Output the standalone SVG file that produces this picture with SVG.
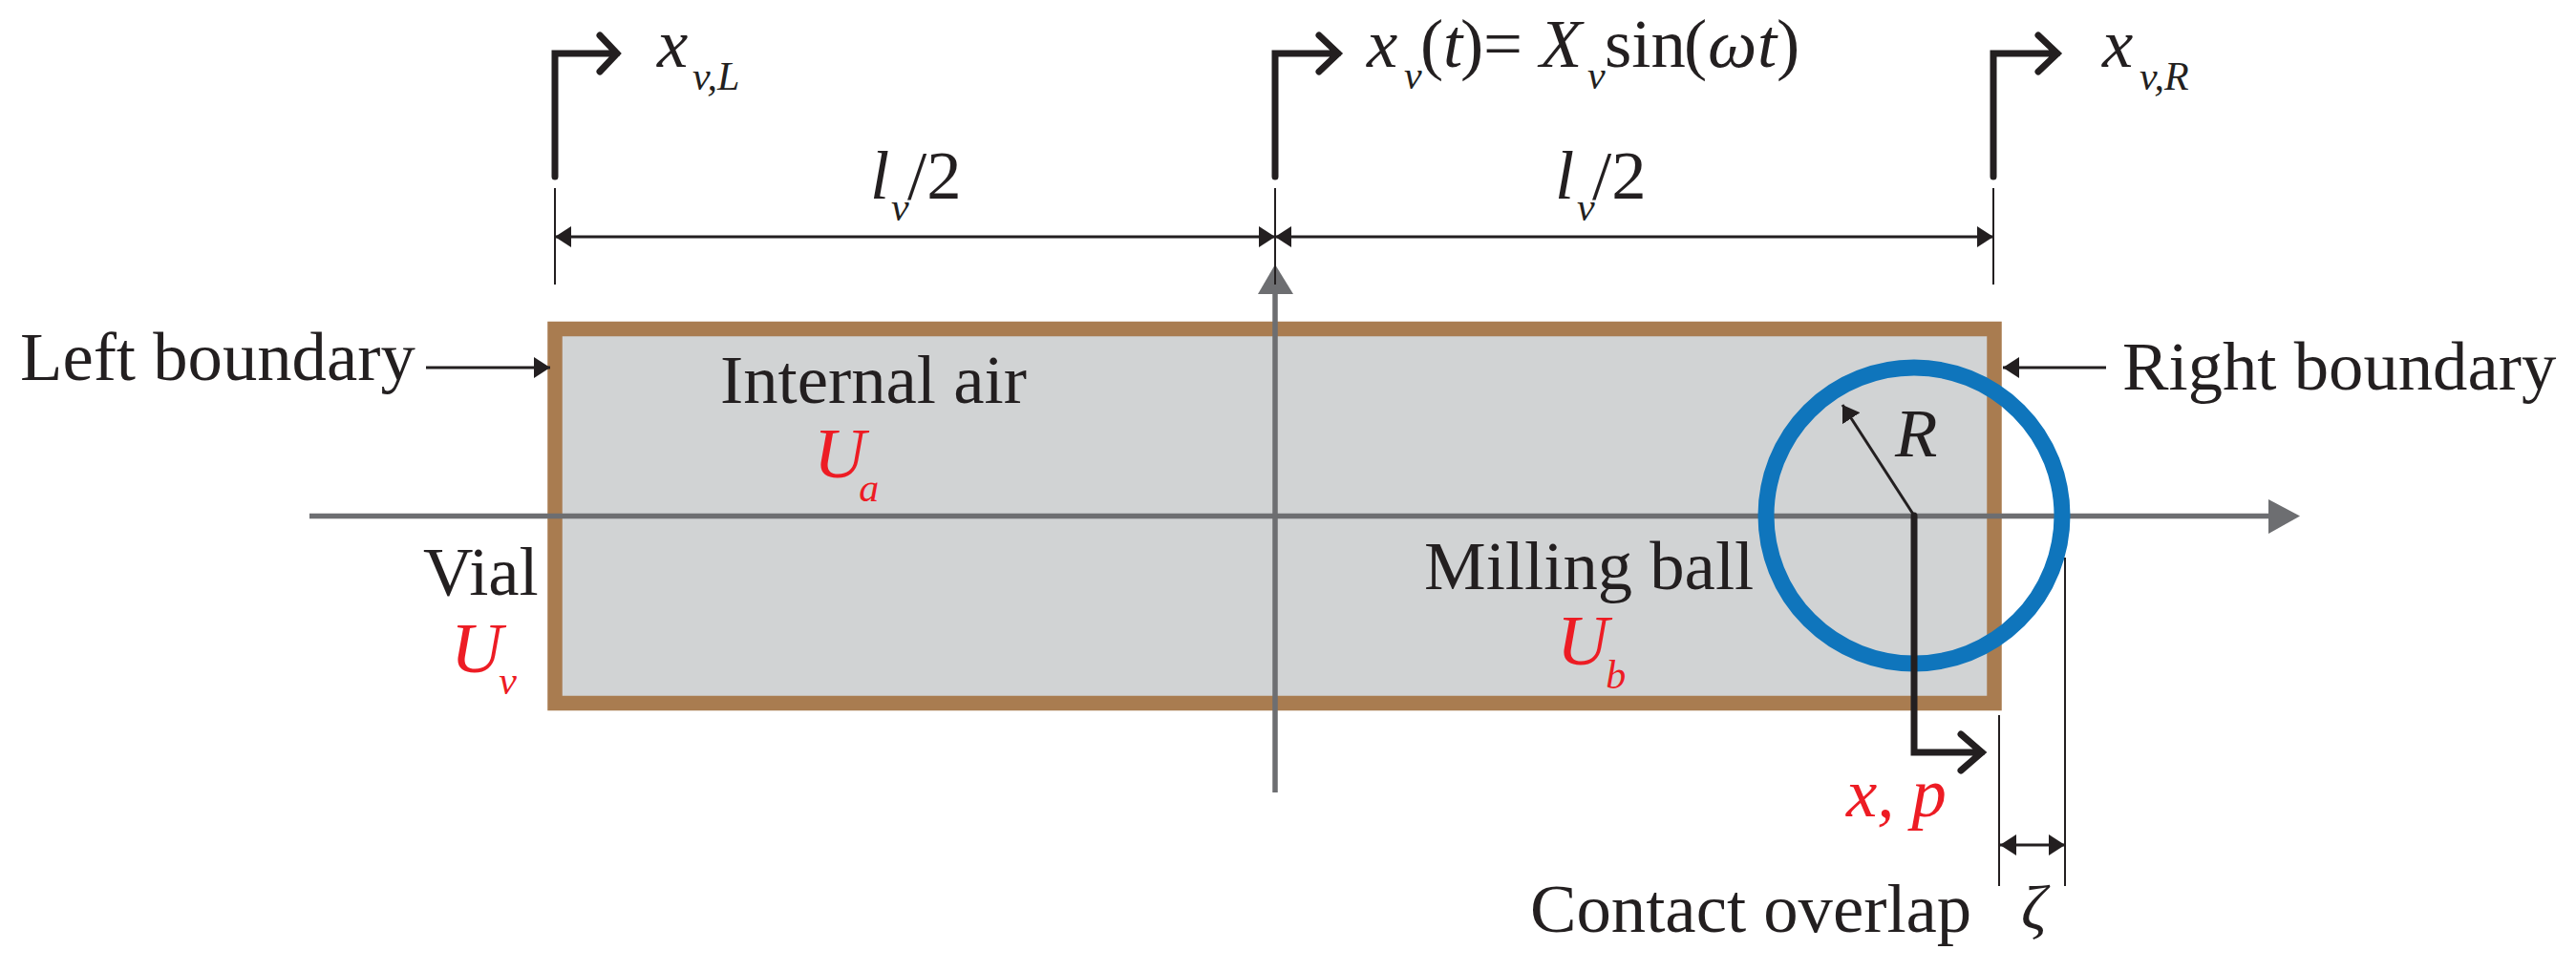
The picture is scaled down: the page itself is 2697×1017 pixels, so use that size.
<svg xmlns="http://www.w3.org/2000/svg" width="2697" height="1017" viewBox="0 0 2697 1017">
<style>
text{font-family:"Liberation Serif","Times New Roman",serif;font-size:72.7px;fill:#231f20}
.i{font-style:italic}
.u{font-style:italic;font-size:75px}
.s{font-style:italic;font-size:42px}
.r{fill:#ed1c24}
.ax{stroke:#6d6e71;stroke-width:5.5;fill:none}
.sec{stroke:#231f20;stroke-width:7;fill:none;stroke-linecap:round;stroke-linejoin:miter}
.thin{stroke:#231f20;stroke-width:2;fill:none}
.dim{stroke:#231f20;stroke-width:3;fill:none}
.tip{fill:#231f20}
.gtip{fill:#6d6e71}
</style>
<defs>
<marker id="a" markerUnits="userSpaceOnUse" markerWidth="18" markerHeight="22" refX="17" refY="11" orient="auto-start-reverse"><path class="tip" d="M0 0L17 11L0 22Z"/></marker>
</defs>
<rect width="2697" height="1017" fill="#fff"/>
<g id="vial"><rect x="581" y="344.5" width="1507" height="392" fill="#d1d3d4" stroke="#a97c50" stroke-width="15.5"/></g>
<g id="axes">
<path class="ax" d="M324 540.5H2378"/><path class="gtip" d="M2375 523L2408 540.5L2375 559Z"/>
<path class="ax" d="M1335 830V305"/><path class="gtip" d="M1335 277L1354 308H1317Z"/>
</g>
<g id="ball"><circle cx="2004" cy="540" r="155" fill="none" stroke="#0f75bc" stroke-width="17"/></g>
<g id="connectors">
<path class="thin" d="M581 197V298M1335 197V298M2087 197V298M2093 749V928M2162 584V928"/>
<path class="dim" d="M581 248H1335" marker-start="url(#a)" marker-end="url(#a)"/>
<path class="dim" d="M1335 248H2087" marker-start="url(#a)" marker-end="url(#a)"/>
<path class="dim" d="M2094 885H2162" marker-start="url(#a)" marker-end="url(#a)"/>
<path class="dim" d="M446 385H576" marker-end="url(#a)"/>
<path class="dim" d="M2205 385H2097" marker-end="url(#a)"/>
<path class="dim" d="M2004 540L1929 424" marker-end="url(#a)"/>
<path class="sec" d="M581 185V56H646M628 37L646 56L628 75"/>
<path class="sec" d="M1335 185V56H1401M1381 37L1401 56L1381 75"/>
<path class="sec" d="M2087 185V56H2154M2134 37L2154 56L2134 75"/>
<path class="sec" d="M2004 540V788H2075M2053 769L2075 788L2053 807"/>
</g>
<g id="label-xvL"><text class="i" x="688" y="70">x</text><text class="s" x="725" y="94">v,L</text></g>
<g id="label-xvt"><text class="i" x="1431" y="70">x</text><text class="s" x="1470" y="93">v</text><text x="1487" y="70">(</text><text class="i" x="1511" y="70">t</text><text x="1529" y="70">)</text><text x="1553" y="70">=</text><text class="i" x="1612" y="70">X</text><text class="s" x="1662" y="93">v</text><text x="1680" y="70">sin</text><text x="1763" y="70">(</text><text class="i" x="1788" y="70">ω</text><text class="i" x="1840" y="70">t</text><text x="1860" y="70">)</text></g>
<g id="label-xvR"><text class="i" x="2201" y="70">x</text><text class="s" x="2240" y="94">v,R</text></g>
<g id="label-lv-left"><text class="i" x="911" y="208">l</text><text class="s" x="933" y="231">v</text><text x="950" y="208">/2</text></g>
<g id="label-lv-right"><text class="i" x="1628" y="208">l</text><text class="s" x="1651" y="231">v</text><text x="1667" y="208">/2</text></g>
<g id="label-left"><text x="21" y="398">Left boundary</text></g>
<g id="label-right"><text x="2222" y="408">Right boundary</text></g>
<g id="label-air"><text x="754" y="422">Internal air</text><text class="u r" x="852" y="500">U<tspan class="s r" dx="-7" dy="25">a</tspan></text></g>
<g id="label-vial"><text x="443" y="623">Vial</text><text class="u r" x="472" y="704">U<tspan class="s r" dx="-4" dy="23">v</tspan></text></g>
<g id="label-ball"><text x="1491" y="617">Milling ball</text><text class="u r" x="1630" y="696">U<tspan class="s r" dx="-3" dy="25">b</tspan></text></g>
<g id="label-R"><text class="i" x="1984" y="478">R</text></g>
<g id="label-xp"><text class="i r" x="1933" y="855">x, p</text></g>
<g id="label-overlap"><text x="1602" y="976">Contact overlap</text><text class="i" x="2116" y="973" style="font-size:66px">ζ</text></g>
</svg>
